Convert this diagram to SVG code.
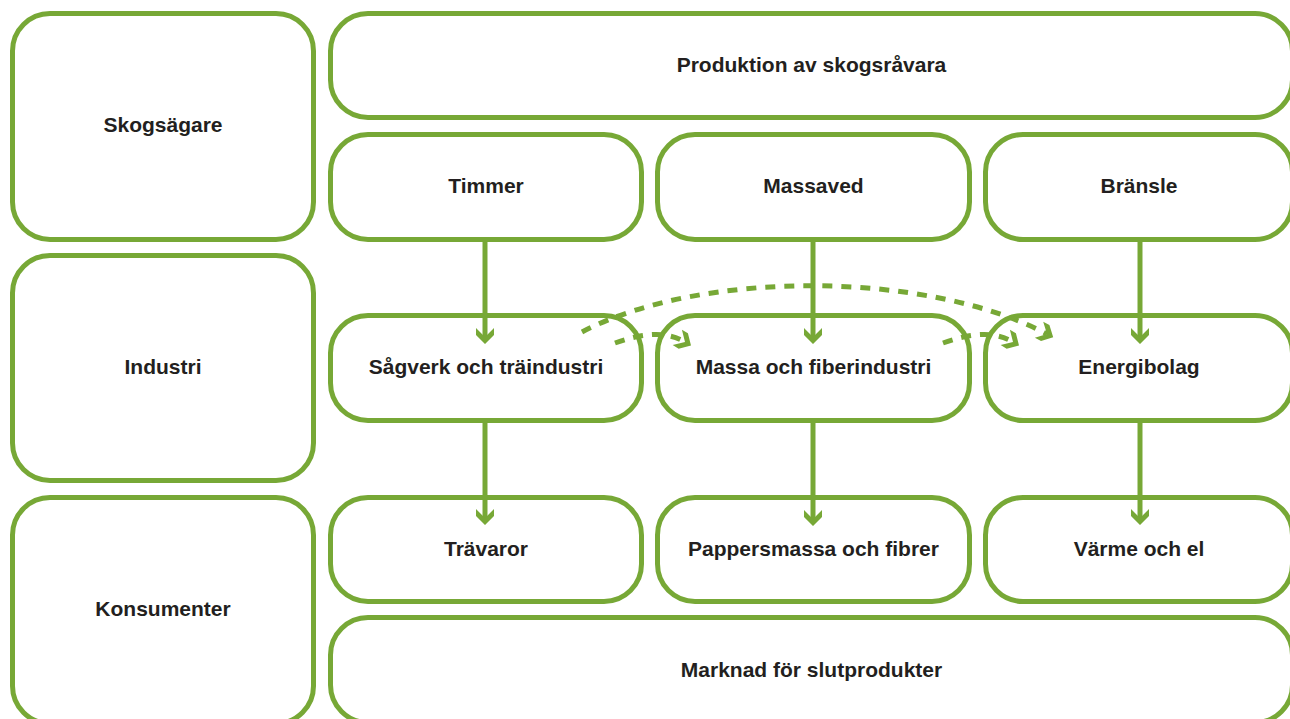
<svg xmlns="http://www.w3.org/2000/svg" width="1290" height="719" viewBox="0 0 1290 719">
<style>
.box{fill:#ffffff;stroke:#77a836;stroke-width:5}
.lbl{font-family:"Liberation Sans",Arial,Helvetica,sans-serif;font-weight:bold;font-size:21px;fill:#231f20;text-anchor:middle}
.flow{fill:none;stroke:#77a836;stroke-width:5}
.dash{fill:none;stroke:#77a836;stroke-width:5;stroke-dasharray:10 9}
</style>
<defs>
<marker id="head" markerUnits="userSpaceOnUse" orient="auto" markerWidth="30" markerHeight="30" viewBox="-15 -15 30 30" refX="0" refY="0" overflow="visible">
<path d="M-2,-9 L7,0 L-2,9 L-9,9 L0,0 L-9,-9 Z" fill="#77a836"/>
</marker>
</defs>
<rect width="1290" height="719" fill="#ffffff"/>

<g id="skogsagare"><rect class="box" x="12.5" y="13.5" width="301" height="226" rx="37.5"/><text class="lbl" x="163" y="132">Skogsägare</text></g>
<g id="industri"><rect class="box" x="12.5" y="255.5" width="301" height="225" rx="37.5"/><text class="lbl" x="163" y="374">Industri</text></g>
<g id="konsumenter"><rect class="box" x="12.5" y="497.5" width="301" height="226" rx="37.5"/><text class="lbl" x="163" y="616">Konsumenter</text></g>

<g id="produktion"><rect class="box" x="330.5" y="13.5" width="962" height="104" rx="37.5"/><text class="lbl" x="811.5" y="72">Produktion av skogsråvara</text></g>

<g id="timmer"><rect class="box" x="330.5" y="134.5" width="311" height="105" rx="37.5"/><text class="lbl" x="486" y="193">Timmer</text></g>
<g id="massaved"><rect class="box" x="657.5" y="134.5" width="312" height="105" rx="37.5"/><text class="lbl" x="813.5" y="193">Massaved</text></g>
<g id="bransle"><rect class="box" x="985.5" y="134.5" width="307" height="105" rx="37.5"/><text class="lbl" x="1139" y="193">Bränsle</text></g>

<g id="sagverk"><rect class="box" x="330.5" y="315.5" width="311" height="105" rx="37.5"/><text class="lbl" x="486" y="374">Sågverk och träindustri</text></g>
<g id="massa"><rect class="box" x="657.5" y="315.5" width="312" height="105" rx="37.5"/><text class="lbl" x="813.5" y="374">Massa och fiberindustri</text></g>
<g id="energibolag"><rect class="box" x="985.5" y="315.5" width="307" height="105" rx="37.5"/><text class="lbl" x="1139" y="374">Energibolag</text></g>

<g id="travaror"><rect class="box" x="330.5" y="497.5" width="311" height="104" rx="37.5"/><text class="lbl" x="486" y="556">Trävaror</text></g>
<g id="pappersmassa"><rect class="box" x="657.5" y="497.5" width="312" height="104" rx="37.5"/><text class="lbl" x="813.5" y="556">Pappersmassa och fibrer</text></g>
<g id="varme"><rect class="box" x="985.5" y="497.5" width="307" height="104" rx="37.5"/><text class="lbl" x="1139" y="556">Värme och el</text></g>

<g id="marknad"><rect class="box" x="330.5" y="617.5" width="962" height="105" rx="37.5"/><text class="lbl" x="811.5" y="677">Marknad för slutprodukter</text></g>

<g id="connectors">
<path class="flow" d="M485,242 V337" marker-end="url(#head)"/>
<path class="flow" d="M813,242 V337" marker-end="url(#head)"/>
<path class="flow" d="M1140,242 V337" marker-end="url(#head)"/>
<path class="flow" d="M485,423 V518" marker-end="url(#head)"/>
<path class="flow" d="M813,423 V519" marker-end="url(#head)"/>
<path class="flow" d="M1140,423 V518" marker-end="url(#head)"/>
<path class="dash" d="M582,332 C700,270 925,270 1047,334" marker-end="url(#head)"/>
<path class="dash" d="M615,343 C640,334 665,330 685,342" marker-end="url(#head)"/>
<path class="dash" d="M943,343 C968,334 993,330 1013,342" marker-end="url(#head)"/>
</g>
</svg>
